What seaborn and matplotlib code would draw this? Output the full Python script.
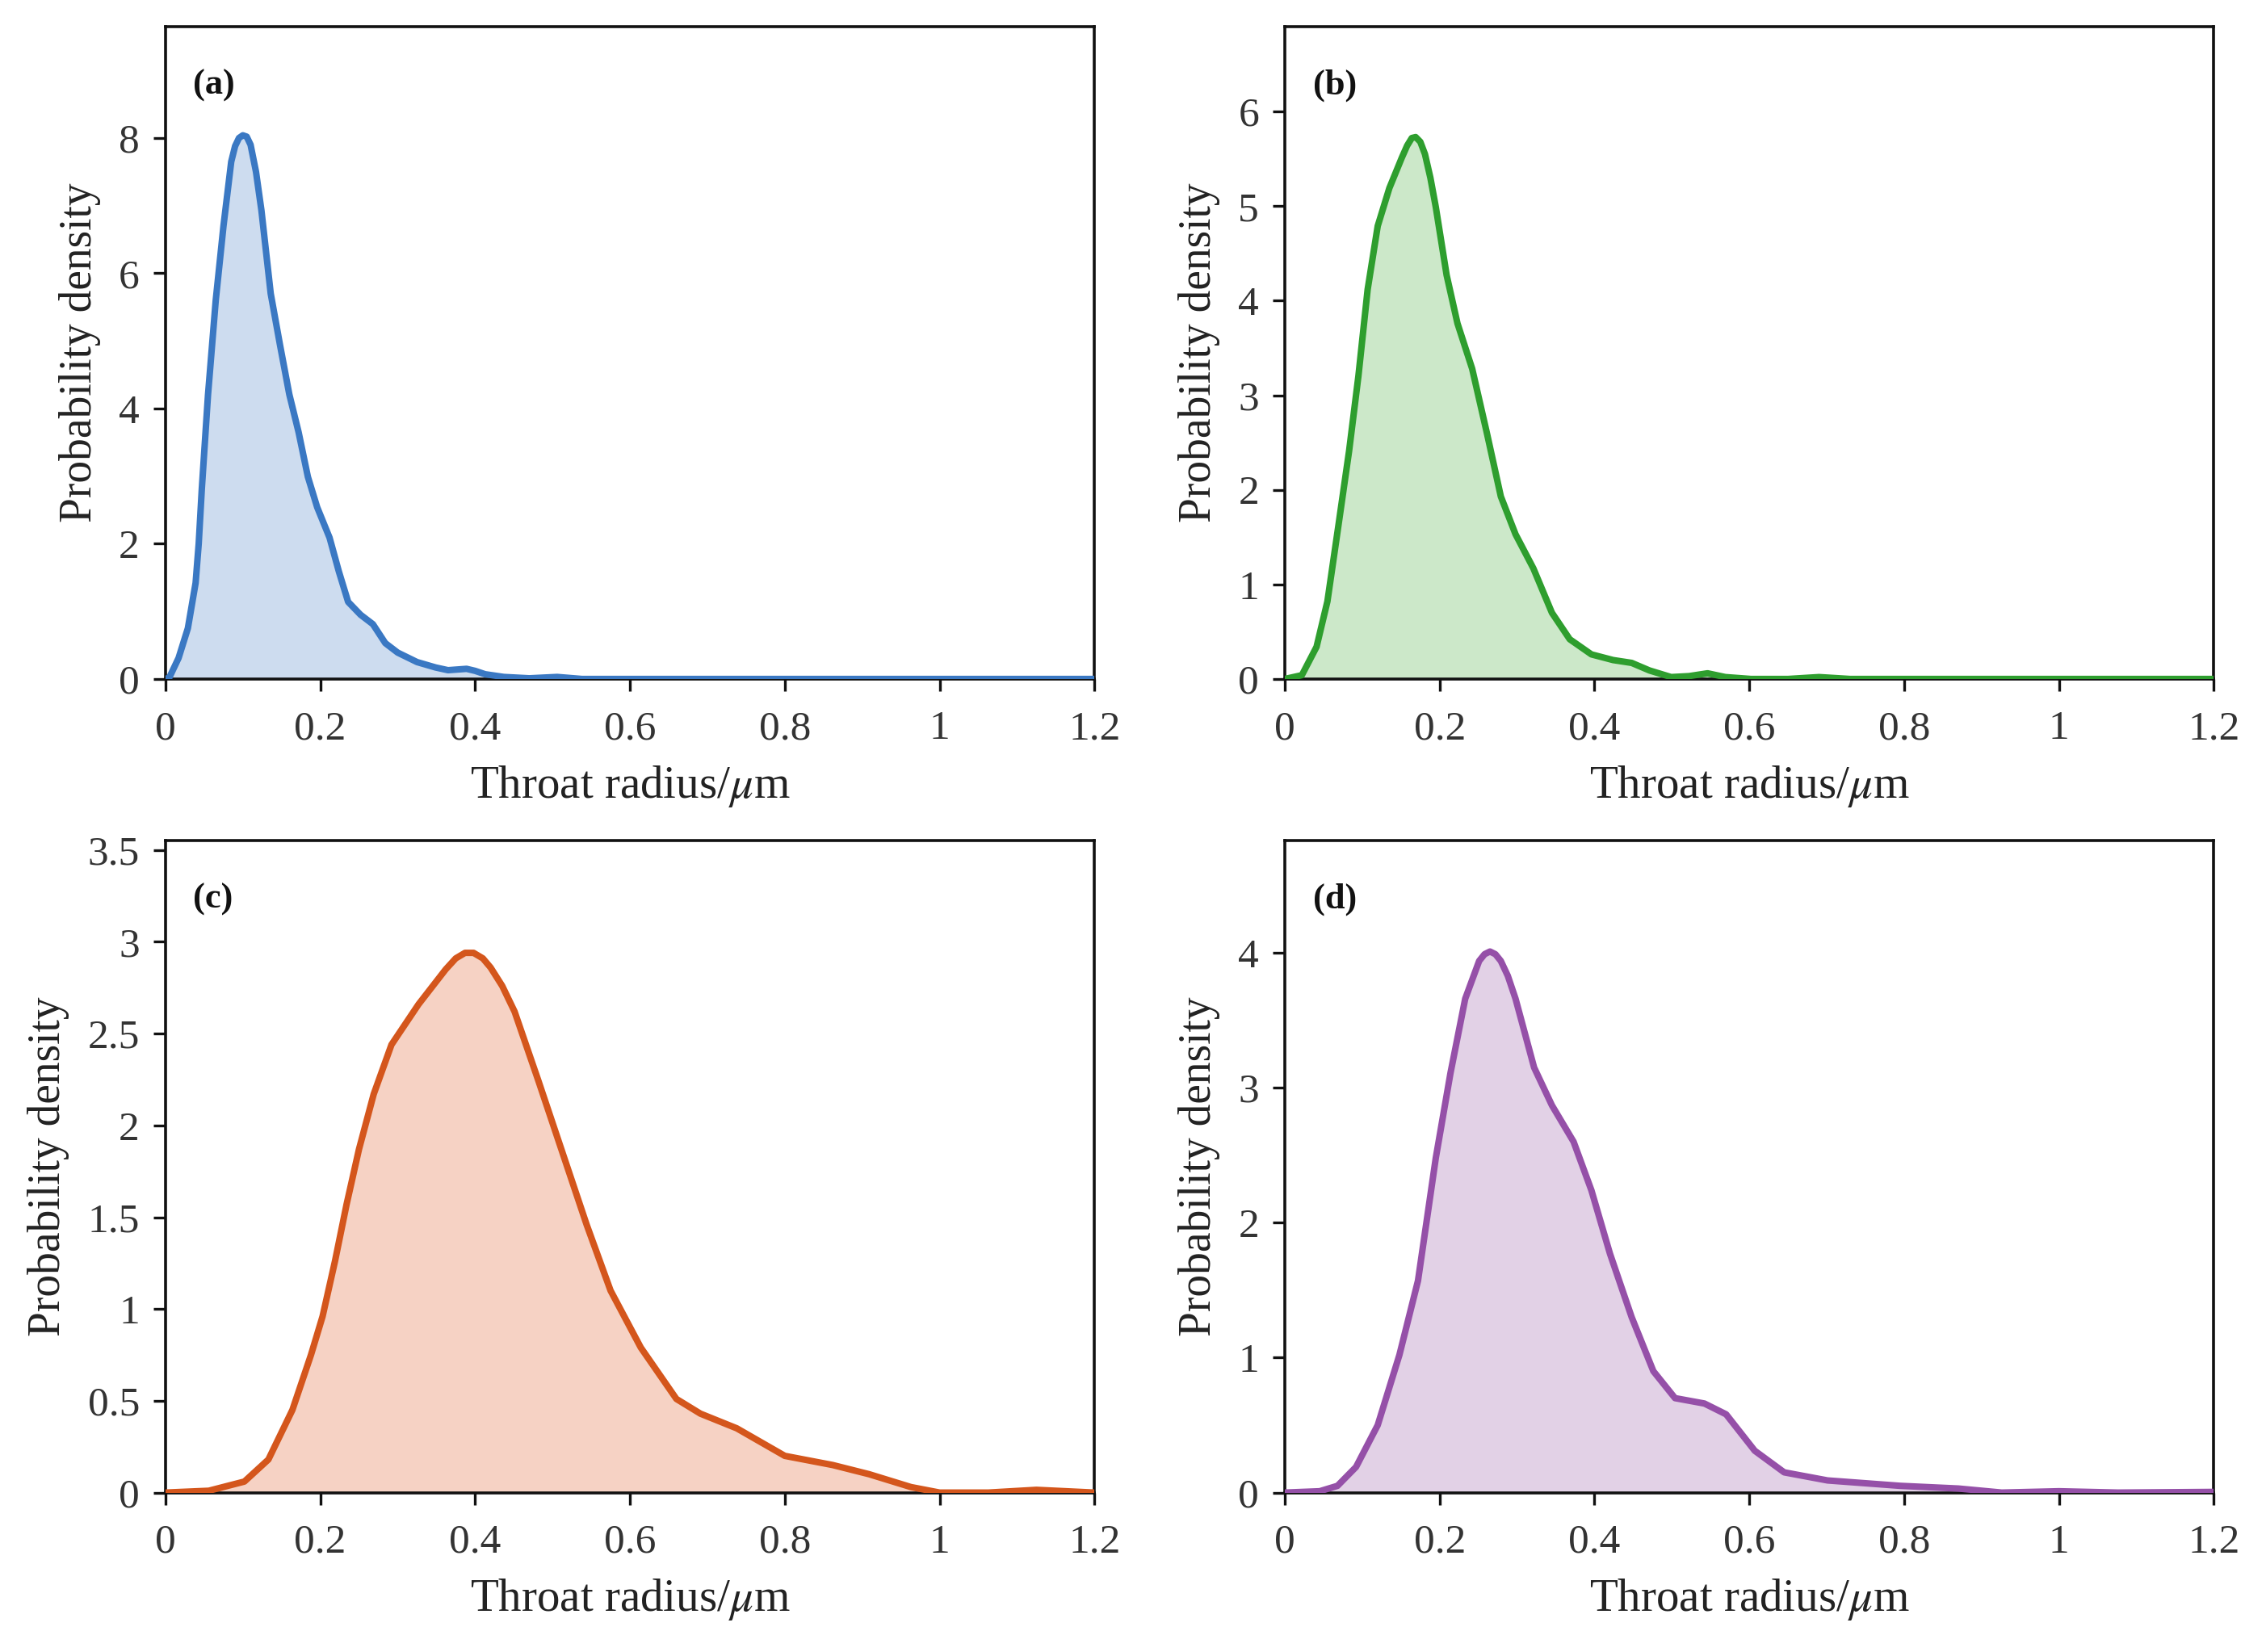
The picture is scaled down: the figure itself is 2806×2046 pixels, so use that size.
import numpy as np
import pandas as pd
import matplotlib
matplotlib.use("Agg")
import matplotlib.pyplot as plt
import seaborn as sns

# ---------------- data ----------------
xa = [0.0, 0.005, 0.017, 0.029, 0.039, 0.043, 0.047, 0.055, 0.065, 0.075, 0.085, 0.09, 0.095, 0.1,
      0.105, 0.11, 0.117, 0.124, 0.136, 0.148, 0.16, 0.172, 0.184, 0.196, 0.212, 0.224, 0.236,
      0.252, 0.268, 0.284, 0.3, 0.325, 0.349, 0.365, 0.377, 0.389, 0.4, 0.413, 0.437, 0.47,
      0.506, 0.538, 0.7, 1.0, 1.2]
ya = [0.0, 0.02, 0.31, 0.75, 1.42, 2.0, 2.81, 4.2, 5.6, 6.7, 7.65, 7.88, 8.0, 8.04,
      8.02, 7.9, 7.5, 6.93, 5.7, 4.94, 4.21, 3.65, 2.99, 2.54, 2.09, 1.59, 1.14,
      0.95, 0.81, 0.53, 0.39, 0.25, 0.17, 0.13, 0.14, 0.15, 0.12, 0.07, 0.03, 0.01,
      0.03, 0.0, 0.0, 0.0, 0.0]

xb = [0.0, 0.022, 0.041, 0.055, 0.069, 0.083, 0.095, 0.107, 0.12, 0.135, 0.151, 0.158, 0.164,
      0.169, 0.175, 0.181, 0.188, 0.195, 0.209, 0.223, 0.242, 0.261, 0.279, 0.298, 0.321,
      0.345, 0.368, 0.396, 0.424, 0.448, 0.471, 0.499, 0.522, 0.546, 0.569, 0.602, 0.65,
      0.69, 0.73, 1.0, 1.2]
yb = [0.0, 0.04, 0.34, 0.82, 1.61, 2.41, 3.2, 4.12, 4.79, 5.19, 5.51, 5.64, 5.72,
      5.73, 5.68, 5.55, 5.3, 4.99, 4.27, 3.76, 3.28, 2.6, 1.93, 1.53, 1.17,
      0.7, 0.42, 0.26, 0.2, 0.17, 0.09, 0.02, 0.03, 0.06, 0.02, 0.0, 0.0,
      0.02, 0.0, 0.0, 0.0]

xc = [0.0, 0.056, 0.102, 0.133, 0.164, 0.188, 0.203, 0.219, 0.234, 0.25, 0.269, 0.292, 0.327,
      0.362, 0.375, 0.387, 0.398, 0.41, 0.42, 0.435, 0.451, 0.482, 0.513, 0.544, 0.575,
      0.614, 0.66, 0.691, 0.738, 0.8, 0.862, 0.909, 0.963, 1.0, 1.063, 1.125, 1.2]
yc = [0.0, 0.01, 0.06, 0.18, 0.45, 0.75, 0.96, 1.26, 1.57, 1.87, 2.17, 2.44, 2.66,
      2.85, 2.91, 2.94, 2.94, 2.91, 2.86, 2.76, 2.62, 2.24, 1.85, 1.46, 1.1,
      0.79, 0.51, 0.43, 0.35, 0.2, 0.15, 0.1, 0.03, 0.0, 0.0, 0.015, 0.0]

xd = [0.0, 0.045, 0.068, 0.092, 0.12, 0.148, 0.172, 0.195, 0.214, 0.233, 0.251, 0.258, 0.265,
      0.272, 0.279, 0.288, 0.298, 0.322, 0.345, 0.373, 0.396, 0.42, 0.448, 0.476, 0.504,
      0.542, 0.57, 0.607, 0.645, 0.701, 0.795, 0.87, 0.926, 1.0, 1.076, 1.2]
yd = [0.0, 0.01, 0.05, 0.19, 0.5, 1.02, 1.57, 2.48, 3.11, 3.66, 3.94, 3.99, 4.01,
      3.99, 3.94, 3.83, 3.66, 3.15, 2.87, 2.6, 2.24, 1.77, 1.3, 0.9, 0.7,
      0.66, 0.58, 0.31, 0.15, 0.09, 0.05, 0.03, 0.0, 0.01, 0.0, 0.005]

panel_labels = ["(a)", "(b)", "(c)", "(d)"]
line_colors = ["#3a78c3", "#2e9e2e", "#d4561c", "#9550a8"]
fill_colors = ["#cddcef", "#cce8c9", "#f6d2c4", "#e2d1e6"]
y_limits = [9.65, 6.9, 3.55, 4.83]
y_ticks = [[0, 2, 4, 6, 8], [0, 1, 2, 3, 4, 5, 6],
           [0, 0.5, 1, 1.5, 2, 2.5, 3, 3.5], [0, 1, 2, 3, 4]]
y_ticklabels = [["0", "2", "4", "6", "8"], ["0", "1", "2", "3", "4", "5", "6"],
                ["0", "0.5", "1", "1.5", "2", "2.5", "3", "3.5"], ["0", "1", "2", "3", "4"]]
x_ticks = [0, 0.2, 0.4, 0.6, 0.8, 1.0, 1.2]
x_ticklabels = ["0", "0.2", "0.4", "0.6", "0.8", "1", "1.2"]

series = [(xa, ya), (xb, yb), (xc, yc), (xd, yd)]

# ---------------- style ----------------
sns.set_theme(style="white")
plt.rcParams["font.family"] = ["Liberation Serif", "DejaVu Serif"]
plt.rcParams["mathtext.fontset"] = "stix"

fig = plt.figure(figsize=(28.06, 20.46), dpi=100)
positions = [
    [0.073, 0.589, 0.410, 0.395],
    [0.567, 0.589, 0.410, 0.395],
    [0.073, 0.0965, 0.410, 0.3945],
    [0.567, 0.0965, 0.410, 0.3945],
]

for i, (xs, ys) in enumerate(series):
    ax = fig.add_axes(positions[i])
    df = pd.DataFrame({"x": xs, "y": ys})
    ax.fill_between(df["x"], df["y"], 0, color=fill_colors[i], lw=0, zorder=1)
    sns.lineplot(data=df, x="x", y="y", ax=ax, color=line_colors[i], lw=5.8,
                 sort=False, estimator=None, zorder=3)
    ax.lines[-1].set_solid_joinstyle("round")
    ax.lines[-1].set_solid_capstyle("round")
    ax.set_xlim(0, 1.2)
    ax.set_ylim(0, y_limits[i])
    ax.set_xticks(x_ticks)
    ax.set_xticklabels(x_ticklabels)
    ax.set_yticks(y_ticks[i])
    ax.set_yticklabels(y_ticklabels[i])
    ax.set_xlabel(r"Throat radius/$\mu$m", fontsize=41, color="#222222", labelpad=14)
    ax.set_ylabel("Probability density", fontsize=40, color="#222222", labelpad=16)
    ax.tick_params(axis="x", pad=17)
    ax.tick_params(axis="y", pad=12)
    ax.tick_params(axis="both", which="major", direction="out", length=11, width=2.4,
                   labelsize=37, colors="#111111", labelcolor="#333333",
                   bottom=True, left=True, top=False, right=False)
    for sp in ax.spines.values():
        sp.set_visible(True)
        sp.set_color("#111111")
        sp.set_linewidth(2.6)
    ax.text(0.03, 0.91, panel_labels[i], transform=ax.transAxes, fontsize=32,
            fontweight="bold", va="center", ha="left", color="#111111")
    ax.grid(False)

fig.savefig("out.png", dpi=100, facecolor="white")
